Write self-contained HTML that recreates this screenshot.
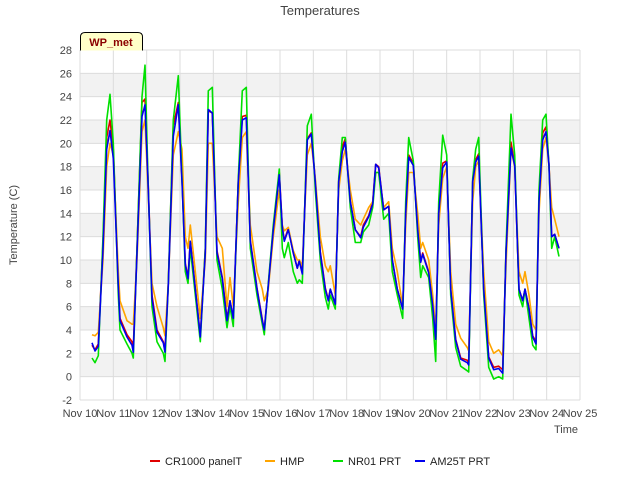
<!DOCTYPE html>
<html><head><meta charset="utf-8"><style>
body{margin:0;background:#fff;font-family:"Liberation Sans",sans-serif;}
svg text{font-family:"Liberation Sans",sans-serif;}
</style></head><body>
<svg id="chart" width="640" height="480" xmlns="http://www.w3.org/2000/svg">
<text x="320" y="15" text-anchor="middle" font-size="13" fill="#444">Temperatures</text>
<g id="bands"></g><g id="grid"></g><g id="series"></g><g id="axes"></g>
<g>
<path d="M80.5,50.5 L80.5,37 Q80.5,32.5 85,32.5 L138,32.5 Q142.5,32.5 142.5,37 L142.5,50.5" fill="#ffffc8" stroke="#000" stroke-width="1"/>
<text x="111" y="46" text-anchor="middle" font-size="11" font-weight="bold" fill="#8b0000">WP_met</text>
</g>
<text transform="translate(17,225) rotate(-90)" text-anchor="middle" font-size="11" fill="#444">Temperature (C)</text>
<text x="578" y="433" text-anchor="end" font-size="11" fill="#444">Time</text>
<g id="legend"></g>
</svg>
<script>
const times=[0.36,0.45,0.55,0.69,0.8,0.9,1.0,1.15,1.2,1.41,1.56,1.6,1.71,1.86,1.95,2.04,2.16,2.31,2.5,2.55,2.65,2.8,2.95,3.06,3.16,3.24,3.31,3.46,3.61,3.76,3.85,3.97,4.11,4.27,4.41,4.5,4.6,4.75,4.87,4.99,5.11,5.31,5.47,5.53,5.65,5.8,5.98,6.07,6.13,6.25,6.4,6.52,6.58,6.67,6.82,6.94,7.06,7.21,7.36,7.45,7.51,7.66,7.76,7.87,7.96,8.11,8.26,8.42,8.5,8.66,8.78,8.87,8.96,9.11,9.26,9.37,9.52,9.68,9.77,9.86,10.0,10.13,10.22,10.28,10.46,10.58,10.67,10.76,10.88,11.0,11.12,11.27,11.42,11.62,11.66,11.78,11.87,11.96,12.11,12.26,12.41,12.56,12.68,12.78,12.93,13.04,13.17,13.28,13.35,13.47,13.58,13.68,13.77,13.88,13.98,14.07,14.15,14.24,14.37];
const cr1000=[2.7,2.3,2.8,11.5,20.5,22,19.5,8,5,3.6,3,2.5,11,23.5,23.8,17,7,4,3,2.2,8,21.5,23.5,17,9.7,8.5,11.6,7.6,3.5,11,22.8,22.6,10.8,8.5,5,6.5,5,16.8,22.3,22.4,11.7,7.6,4.9,4,7.8,12.7,17.5,12.8,11.7,12.7,10.6,9.3,10,8.9,20.4,20.9,16.8,10.7,7.6,6.6,7.5,6.2,16.8,19.7,20.4,15,12.6,12,13,13.8,15,18.2,18,14.3,14.6,10,7.5,5.8,14.1,19,18.3,12.6,9.9,10.6,9,6.2,3.2,14.1,18.3,18.5,7.5,3.2,1.6,1.4,1.2,16.8,18.6,19.1,7.5,1.7,0.8,0.9,0.6,10.7,20.1,18.2,7.5,6.5,7.5,5.9,3.5,3,15.1,20.9,21.4,18.2,12,12.2,11];
const hmp=[3.6,3.5,3.8,10,18,20,19,9,6.5,4.8,4.5,4.5,10,21,22,16,8,6,4.2,3.5,8,19,21,19.5,12,11,13,9,5,10,20,20,12,11,6,8.5,6,15,20.5,21,13,9,7.5,6.5,7.5,12,16,13,12.5,12.8,10.8,10,10,9.5,19,20,17,12,9.5,9,9.5,7,16,18.5,19.5,16,13.5,13,13.5,14.5,15,17.5,17.5,14.5,15,11,9,6,13,17.5,17.5,14,11,11.5,10,7,4,13,17,18,9,4.5,3.3,2.5,2.2,15,18,18.5,9,3,2,2.3,1.8,9.5,19.5,18,9,8,9,7,4.5,4,14,19.5,20.5,18,14.5,13.5,12];
const nr01=[1.6,1.2,1.8,12,22,24.2,20,7,4,2.8,2,1.6,11,24,26.7,17,6,3,2,1.3,8,22,25.8,17,9,8,11,7,3,11,24.5,24.8,10,7.5,4.2,6,4.3,17,24.5,24.8,11,7,4.5,3.6,8,13,17.8,11,10.2,11.5,9,8,8.3,8,21.5,22.5,16,10,6.8,5.8,7,5.8,17,20.5,20.5,14.5,11.5,11.5,12.4,13,14.5,17.5,17.5,13.5,14,9,7,5,15,20.5,18.5,12,8.5,9.5,8.5,5,1.3,15,20.7,19,7,2.5,0.9,0.5,0.4,17,19.5,20.5,7,0.8,-0.2,0,-0.2,11,22.5,19,7,6,7.5,5,2.7,2.3,16,22,22.5,18,11,12,10.3];
const am25t=[2.9,2.2,2.6,10.9,19.5,21.1,18.7,7.8,4.8,3.4,2.7,2.1,10.6,22.3,23.3,16.7,6.7,3.8,2.9,2.1,7.8,20.6,23.3,16.7,9.6,8.4,11.6,7.5,3.4,10.6,22.9,22.6,10.6,8.4,4.8,6.5,5.0,16.7,22.0,22.2,11.6,7.5,4.8,4.0,7.8,12.6,17.3,12.8,11.6,12.6,10.6,9.3,9.9,8.8,20.3,20.8,16.7,10.6,7.5,6.5,7.5,6.2,16.7,19.3,20.1,15,12.6,11.9,12.8,13.7,14.8,18.2,17.9,14.3,14.6,10,7.5,5.8,14,18.8,18.1,12.6,9.8,10.5,8.9,6.1,3.2,14,17.9,18.4,7.5,3.1,1.5,1.2,1.0,16.7,18.4,18.9,7.5,1.6,0.6,0.7,0.3,10.6,19.6,18.1,7.5,6.5,7.5,5.8,3.4,2.8,15,20.3,21,18.1,12,12.2,11];
const yTicks=[-2,0,2,4,6,8,10,12,14,16,18,20,22,24,26,28];
const xTickLabels=["Nov 10","Nov 11","Nov 12","Nov 13","Nov 14","Nov 15","Nov 16","Nov 17","Nov 18","Nov 19","Nov 20","Nov 21","Nov 22","Nov 23","Nov 24","Nov 25"];
const seriesNames=["CR1000 panelT","HMP","NR01 PRT","AM25T PRT"];
const seriesColors=["#e00000","#ffa500","#00e000","#0000ee"];
const seriesData=[cr1000,hmp,nr01,am25t];

const L=80,R=580,T=50,B=400,NS="http://www.w3.org/2000/svg";
const X=d=>L+(R-L)*d/15;
const Y=v=>B-(B-T)*(v+2)/30;
function mk(tag,attrs,parent){const e=document.createElementNS(NS,tag);for(const k in attrs)e.setAttribute(k,attrs[k]);parent.appendChild(e);return e;}
const bands=document.getElementById('bands'),grid=document.getElementById('grid'),axes=document.getElementById('axes'),ser=document.getElementById('series'),leg=document.getElementById('legend');
for(let v=0;v<26;v+=4){const r=mk('rect',{x:L,y:Y(v+2),width:R-L,height:Y(v)-Y(v+2),fill:'#f2f2f2'},bands);

}
yTicks.forEach(v=>{const l=mk('line',{x1:L,x2:R,y1:Y(v),y2:Y(v),stroke:'#dcdcdc','stroke-width':1},grid);


const t=mk('text',{x:L-8,y:Y(v)+4,'text-anchor':'end','font-size':11,fill:'#444'},axes);t.textContent=v;

});
xTickLabels.forEach((s,i)=>{const l=mk('line',{x1:X(i),x2:X(i),y1:T,y2:B,stroke:'#dcdcdc','stroke-width':1},grid);


const t=mk('text',{x:X(i),y:B+17,'text-anchor':'middle','font-size':11,fill:'#444'},axes);t.textContent=s;

});
seriesData.forEach((arr,si)=>{const d=arr.map((v,i)=>(i?'L':'M')+X(times[i]).toFixed(1)+','+Y(v).toFixed(1)).join('');
const p=mk('path',{d:d,fill:'none',stroke:seriesColors[si],'stroke-width':1.6,'stroke-linejoin':'round'},ser);

});
const lx=[150,265,333,415];
seriesNames.forEach((n,i)=>{const g=mk('g',{},leg);


mk('line',{x1:lx[i],x2:lx[i]+10,y1:461,y2:461,stroke:seriesColors[i],'stroke-width':2},g);
const t=mk('text',{x:lx[i]+15,y:465,'font-size':11,fill:'#222'},g);t.textContent=n;});
</script>
</body></html>
